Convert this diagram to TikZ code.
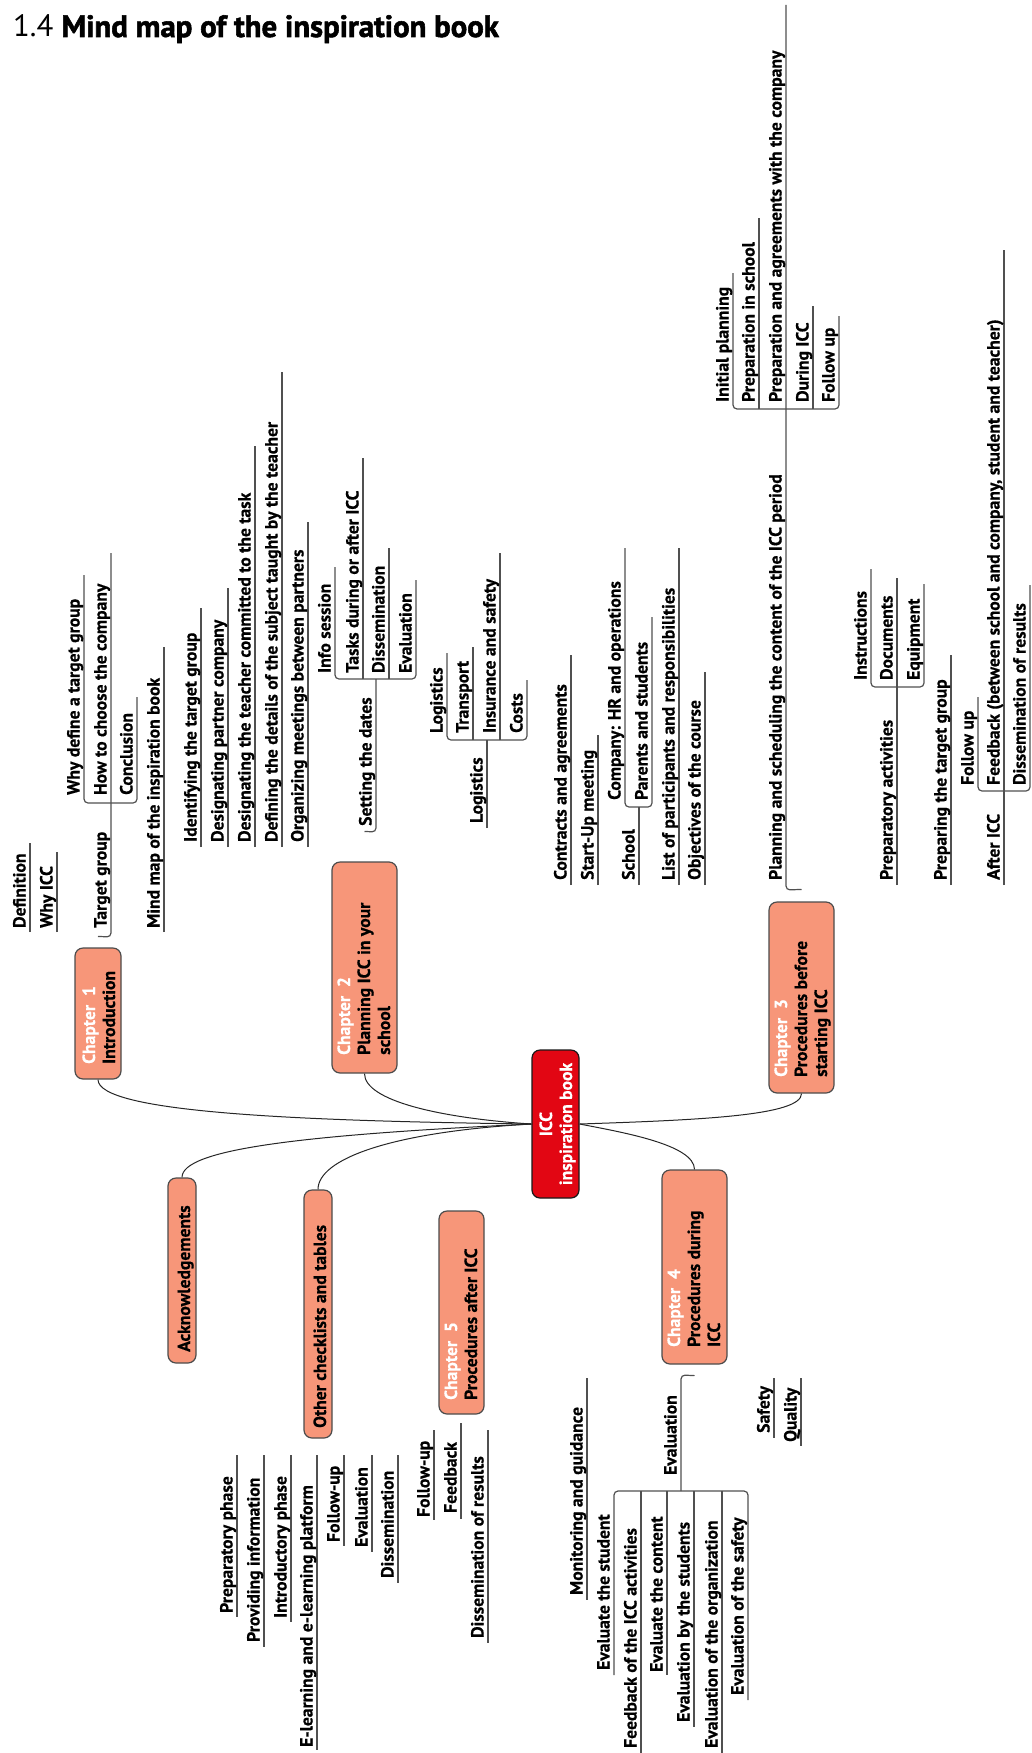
\documentclass[tikz,border=0pt]{standalone}
\usepackage{fontspec}
\setmainfont{PT Sans}[BoldFeatures={FakeBold=0.6}]
\newfontfamily\heavyfont{PT Sans}[BoldFeatures={FakeBold=1.8}]
\definecolor{salmon}{RGB}{247,150,121}
\definecolor{iccred}{RGB}{226,6,19}
\definecolor{lnc}{RGB}{80,80,80}
\newcommand\itfont{\fontsize{17.6}{20}\selectfont\bfseries}
\tikzset{
  uline/.style={draw=lnc, line width=1.2pt},
  hook/.style={draw=lnc, line width=1.2pt, rounded corners=4pt},
  conn/.style={draw=black!85, line width=1pt},
  itm/.style={rotate=90, anchor=base west, inner sep=0pt, font=\itfont},
  chtext/.style={itm, text=white},
  chbox/.style={draw=black!70, line width=1.2pt, fill=salmon, rounded corners=8pt, inner sep=0pt},
}
\newcommand\topic[6]{\draw[uline] (#2,#4) -- (#2,#5); \node[itm] (#1) at ({#2-4.5},#3) {#6};}
\newcommand\lab[4]{\node[itm] (#1) at ({#2-4.5},#3) {#4};}
\begin{document}
\begin{tikzpicture}[x=1pt,y=-1pt]
\useasboundingbox (0,0) rectangle (1031,1753);
\node[anchor=base west, inner sep=0pt, font=\fontsize{30.8}{33}\selectfont] (title) at (13,37) {1.4 {\heavyfont\bfseries Mind map of the inspiration book}};

% boxes
\node[chbox, minimum width=46pt, minimum height=131pt] (ch1) at (98,1013.5) {};
\node[chbox, minimum width=65pt, minimum height=211pt] (ch2) at (364.5,967.5) {};
\node[chbox, minimum width=65pt, minimum height=191pt] (ch3) at (801.5,997.5) {};
\node[chbox, minimum width=65pt, minimum height=194pt] (ch4) at (694.5,1267) {};
\node[chbox, minimum width=45pt, minimum height=203pt] (ch5) at (461.5,1312.5) {};
\node[chbox, minimum width=28pt, minimum height=185pt] (ack) at (182,1270.5) {};
\node[chbox, minimum width=28pt, minimum height=248pt] (oth) at (318,1314) {};
\node[chbox, fill=iccred, draw=black!90, minimum width=47pt, minimum height=148pt] (icc) at (555.5,1124) {};

% box texts
\node[chtext] (ch1a) at (95,1064) {Chapter\ \ 1};
\node[itm] (ch1b) at (115,1064) {Introduction};
\node[chtext] (ch2a) at (350,1055) {Chapter\ \ 2};
\node[itm] (ch2b) at (370,1055) {Planning ICC in your};
\node[itm] (ch2c) at (390,1055) {school};
\node[chtext] (ch3a) at (787,1077) {Chapter\ \ 3};
\node[itm] (ch3b) at (807,1077) {Procedures before};
\node[itm] (ch3c) at (827,1077) {starting ICC};
\node[chtext] (ch4a) at (680,1347) {Chapter\ \ 4};
\node[itm] (ch4b) at (700,1347) {Procedures during};
\node[itm] (ch4c) at (720,1347) {ICC};
\node[chtext] (ch5a) at (457,1400) {Chapter\ \ 5};
\node[itm] (ch5b) at (477,1400) {Procedures after ICC};
\node[itm] (ackt) at (190,1352) {Acknowledgements};
\node[itm] (otht) at (326,1428) {Other checklists and tables};
\node[rotate=90, anchor=base, inner sep=0pt, font=\itfont, text=white] (icca) at (552,1124) {ICC};
\node[rotate=90, anchor=base, inner sep=0pt, font=\itfont, text=white] (iccb) at (572,1124) {inspiration book};

% main connectors
\draw[conn] (ch1.south) .. controls +(0,33) and +(-232,-3) .. (icc.west);
\draw[conn] (ch2.south) .. controls +(0,27) and +(-92,-6) .. (icc.west);
\draw[conn] (ack.north) .. controls +(0,-28) and +(-232,11) .. (icc.west);
\draw[conn] (oth.north) .. controls +(0,-30) and +(-142,8) .. (icc.west);
\draw[conn] (ch3.south) .. controls +(0,22) and +(121,-4) .. (icc.east);
\draw[conn] (ch4.north) .. controls +(0,-25) and +(41,8) .. (icc.east);

% Chapter 1
\topic{def}{30}{928}{932}{843}{Definition}
\topic{why}{57}{928}{932}{852}{Why ICC}
\lab{tgt}{111}{928}{Target group}
\draw[hook] ([yshift=11pt]ch1.north) -- (111,937) -- (111,553);
\topic{mmap}{164}{928}{932}{647}{Mind map of the inspiration book}
\draw[hook] (84,575) -- (84,803) -- (137,803) -- (137,697);
\lab{whyd}{84}{795}{Why define a target group}
\lab{how}{111}{795}{How to choose the company}
\lab{concl}{137}{795}{Conclusion}

% Chapter 2
\topic{ident}{201}{842}{847}{608}{Identifying the target group}
\topic{despc}{228}{842}{847}{588}{Designating partner company}
\topic{destc}{255}{842}{847}{446}{Designating the teacher committed to the task}
\topic{defdet}{282}{842}{847}{372}{Defining the details of the subject taught by the teacher}
\topic{org}{308}{842}{847}{522}{Organizing meetings between partners}
\lab{setd}{376}{826}{Setting the dates}
\draw[hook] ([yshift=30pt]ch2.north) -- (376,832) -- (376,679);
\draw[hook] (335,567) -- (335,679) -- (416,679) -- (416,580);
\lab{info}{335}{673}{Info session}
\topic{tasks}{363}{673}{679}{458}{Tasks during or after ICC}
\topic{dissA}{389}{673}{679}{548}{Dissemination}
\lab{evalA}{416}{673}{Evaluation}
\topic{logp}{487}{823}{828}{740}{Logistics}
\draw[hook] (447,653) -- (447,740) -- (527,740) -- (527,680);
\lab{logc}{447}{733}{Logistics}
\topic{transp}{473}{733}{740}{647}{Transport}
\topic{insur}{500}{733}{740}{553}{Insurance and safety}
\lab{costs}{527}{733}{Costs}

% Chapter 3
\topic{contr}{571}{880}{885}{655}{Contracts and agreements}
\topic{startup}{598}{880}{885}{735}{Start-Up meeting}
\topic{school}{639}{880}{885}{807}{School}
\draw[hook] (625,548) -- (625,807) -- (652,807) -- (652,617);
\lab{comp}{625}{800}{Company: HR and operations}
\lab{parents}{652}{800}{Parents and students}
\topic{list}{679}{880}{885}{548}{List of participants and responsibilities}
\topic{obj}{705}{880}{885}{672}{Objectives of the course}
\lab{plan}{786}{880}{Planning and scheduling the content of the ICC period}
\draw[hook] ([yshift=12pt]ch3.north) -- (786,890) -- (786,5);
\draw[hook] (733,273) -- (733,409) -- (839,409) -- (839,316);
\lab{init}{733}{402}{Initial planning}
\topic{prepsch}{759}{402}{409}{218}{Preparation in school}
\lab{prepag}{786}{402}{Preparation and agreements with the company}
\topic{during}{813}{402}{409}{306}{During ICC}
\lab{follA}{839}{402}{Follow up}
\topic{prepact}{897}{880}{885}{578}{Preparatory activities}
\draw[hook] (871,569) -- (871,687) -- (924,687) -- (924,584);
\lab{instr}{871}{680}{Instructions}
\lab{docs}{897}{680}{Documents}
\lab{equip}{924}{680}{Equipment}
\topic{preptg}{951}{880}{885}{655}{Preparing the target group}
\topic{after}{1004}{880}{885}{250}{After ICC}
\draw[hook] (978,697) -- (978,791) -- (1030,791) -- (1030,585);
\lab{follB}{978}{785}{Follow up}
\lab{feedA}{1004}{785}{Feedback (between school and company, student and teacher)}
\lab{dissB}{1030}{785}{Dissemination of results}

% Chapter 4
\topic{monit}{587}{1595}{1378}{1600}{Monitoring and guidance}
\lab{evalB}{681}{1475}{Evaluation}
\draw[hook] ([yshift=-11pt]ch4.south) -- (681,1375) -- (681,1491);
\draw[hook] (614,1675) -- (614,1491) -- (748,1491) -- (748,1700);
\lab{evstu}{614}{1670}{Evaluate the student}
\topic{fbicc}{641}{1748}{1491}{1753}{Feedback of the ICC activities}
\topic{evcont}{667}{1672}{1491}{1675}{Evaluate the content}
\topic{evbys}{694}{1722}{1491}{1727}{Evaluation by the students}
\topic{evorg}{722}{1748}{1491}{1753}{Evaluation of the organization}
\lab{evsaf}{748}{1695}{Evaluation of the safety}
\topic{safety}{774}{1433}{1378}{1438}{Safety}
\topic{quality}{801}{1442}{1378}{1446}{Quality}

% Chapter 5
\topic{follC}{434}{1517}{1430}{1520}{Follow-up}
\topic{feedB}{461}{1513}{1423}{1519}{Feedback}
\topic{dissC}{488}{1638}{1430}{1643}{Dissemination of results}

% Other checklists
\topic{prepph}{237}{1613}{1455}{1617}{Preparatory phase}
\topic{provinf}{264}{1642}{1455}{1647}{Providing information}
\topic{introph}{291}{1618}{1455}{1622}{Introductory phase}
\topic{elearn}{317}{1747}{1455}{1750}{E-learning and e-learning platform}
\topic{follD}{344}{1542}{1455}{1546}{Follow-up}
\topic{evalC}{372}{1547}{1455}{1552}{Evaluation}
\topic{dissD}{398}{1578}{1455}{1583}{Dissemination}
\end{tikzpicture}
\end{document}
